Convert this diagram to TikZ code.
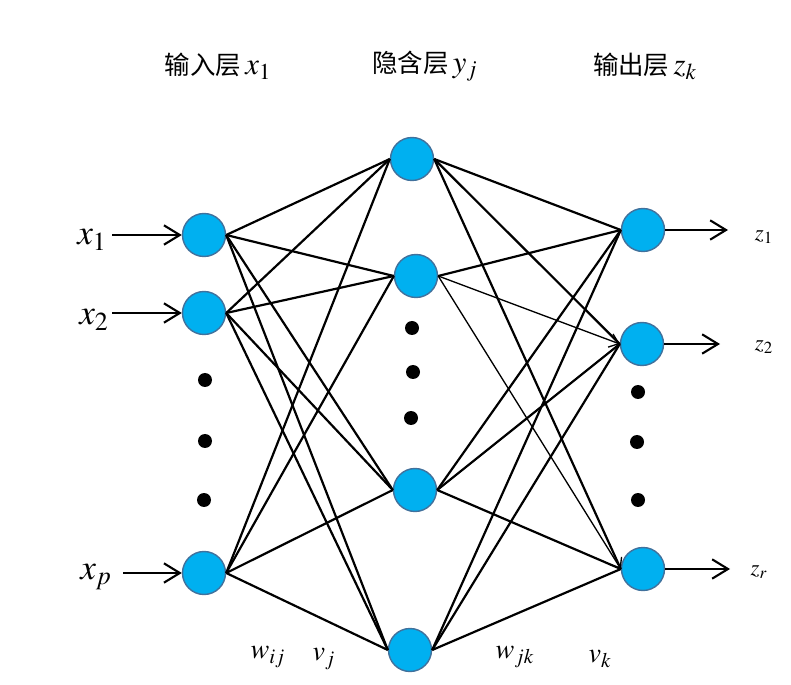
\documentclass[tikz,border=0pt]{standalone}
\usepackage{mathptmx}
\usepackage{fontspec}
\usepackage{tikz}
\usetikzlibrary{arrows.meta,positioning}
\newfontfamily\cjk{Noto Sans CJK SC}
\definecolor{neuronC}{RGB}{0,176,240}
\definecolor{rimC}{RGB}{65,113,156}
\newcommand{\headmath}[1]{{\fontsize{17.5}{20}\selectfont$#1$}}

\begin{document}
\begin{tikzpicture}[
  x=0.02cm,y=-0.02cm,
  neuron/.style={circle,fill=neuronC,draw=rimC,line width=0.8pt,
                 minimum size=0.86cm,inner sep=0pt},
  dot/.style={circle,fill=black,minimum size=0.28cm,inner sep=0pt},
  link/.style={line width=1.25pt},
  thinlink/.style={line width=0.75pt,-{Straight Barb[length=5pt,width=8pt]}},
  arr/.style={line width=1.2pt,-{Straight Barb[length=9pt,width=11pt]}},
  head/.style={font=\fontsize{14.5}{17}\selectfont},
  inlab/.style={font=\fontsize{20}{23}\selectfont},
  outlab/.style={font=\fontsize{13}{15}\selectfont},
  wlab/.style={font=\fontsize{16}{18}\selectfont}
]
  \useasboundingbox (0,0) rectangle (791,685);

  % Layer titles
  \node[head] (tin) at (218,66) {{\cjk 输入层}\,\headmath{x_1}};
  \node[head] (thid) at (425,66) {{\cjk 隐含层}\,\headmath{y_j}};
  \node[head] (tout) at (645,66) {{\cjk 输出层}\,\headmath{z_k}};

  % Input layer
  \node[neuron] (in1) at (204,235) {};
  \node[neuron] (in2) at (204,313) {};
  \node[neuron] (inp) at (204,573) {};
  \node[dot] (di1) at (205,380) {};
  \node[dot] (di2) at (205,441) {};
  \node[dot] (di3) at (204,500) {};

  % Hidden layer
  \node[neuron] (h1) at (412,159) {};
  \node[neuron] (h2) at (416,276) {};
  \node[neuron] (h3) at (415,490) {};
  \node[neuron] (h4) at (410,650) {};
  \node[dot] (dh1) at (412,328) {};
  \node[dot] (dh2) at (413,372) {};
  \node[dot] (dh3) at (411,418) {};

  % Output layer
  \node[neuron] (out1) at (643,230) {};
  \node[neuron] (out2) at (642,344) {};
  \node[neuron] (outr) at (643,569) {};
  \node[dot] (do1) at (638,392) {};
  \node[dot] (do2) at (637,442) {};
  \node[dot] (do3) at (638,500) {};

  % Input to hidden
  \foreach \a in {in1,in2,inp}
    \foreach \b in {h1,h2,h3,h4}
      \draw[link] (\a.east) -- (\b.west);

  % Hidden to output
  \foreach \a/\b in {h1/out1,h1/out2,h1/outr,h2/out1,
                     h3/out1,h3/out2,h3/outr,h4/out1,h4/out2,h4/outr}
    \draw[link] (\a.east) -- (\b.west);
  \draw[thinlink] (h2.east) -- (out2.west);
  \draw[thinlink] (h2.east) -- (outr.west);

  % Inputs
  \node[inlab] (x1) at (92,240) {$x_1$};
  \node[inlab] (x2) at (94,320) {$x_2$};
  \node[inlab] (xp) at (96,577) {$x_p$};
  \coordinate (a1) at (112,235);
  \coordinate (a2) at (112,313);
  \coordinate (ap) at (123,573);
  \draw[arr] (a1) -- (in1.west);
  \draw[arr] (a2) -- (in2.west);
  \draw[arr] (ap) -- (inp.west);

  % Outputs
  \coordinate (b1) at (728,230);
  \coordinate (b2) at (720,344);
  \coordinate (br) at (730,569);
  \draw[arr] (out1.east) -- (b1);
  \draw[arr] (out2.east) -- (b2);
  \draw[arr] (outr.east) -- (br);
  \node[outlab] (z1) at (764,237) {$z_1$};
  \node[outlab] (z2) at (764,347) {$z_2$};
  \node[outlab] (zr) at (759,572) {$z_r$};

  % Weights
  \node[wlab] (wij) at (268,657) {$w_{ij}$};
  \node[wlab] (vj) at (324,659) {$v_j$};
  \node[wlab] (wjk) at (515,657) {$w_{jk}$};
  \node[wlab] (vk) at (600,659) {$v_k$};
\end{tikzpicture}
\end{document}
